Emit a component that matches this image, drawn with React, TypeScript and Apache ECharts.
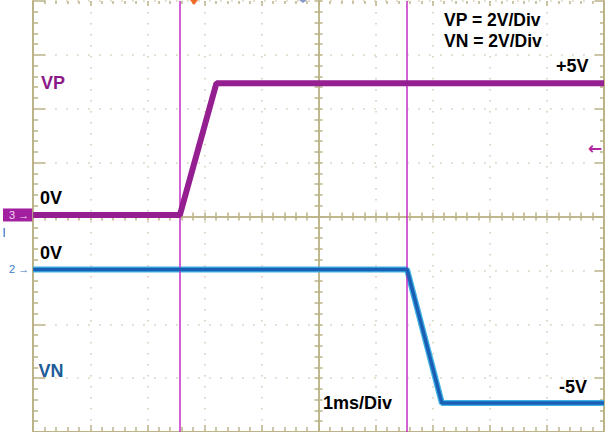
import React, { useEffect, useRef } from 'react';
import * as echarts from 'echarts';

// ---- data ----
const VP_TIME_MS = [0, 2.57, 3.21, 10];
const VP_VOLTS = [0, 0, 5, 5];
const VN_TIME_MS = [0, 6.55, 7.16, 10];
const VN_VOLTS = [0, 0, -5, -5];
const CURSOR_TIME_MS = [2.57, 6.55];
const TIME_RANGE_MS = [0, 10];
const X_DIV_RANGE = [-5, 5];
const Y_DIV_RANGE = [-4, 4];
const VP_AXIS_RANGE = [-8.24, 8.125];
const VN_AXIS_RANGE = [-6.08, 10.04];
const CHANNEL_TAGS = ['3 →', '2 →'];
const SCALE_TEXTS = ['VP = 2V/Div', 'VN = 2V/Div', '1ms/Div'];
const LEVEL_TEXTS = ['+5V', '0V', '0V', '-5V'];
const TRACE_NAMES = ['VP', 'VN'];

const OLIVE = '#BDB389';
const DOT = '#D2CCB2';
const VP_COLOR = '#951F91';
const CURSOR_COLOR = '#C22EC4';
const VN_COLOR = '#1A5FB4';
const VN_FRINGE = '#3FB2E6';
const FONT = '"Liberation Sans", Arial, sans-serif';

const tickLine = { color: OLIVE, width: 1.5 };

function borderX(position: string, majorLen: number, minorLen: number, showLine: boolean) {
  return {
    type: 'value', min: TIME_RANGE_MS[0], max: TIME_RANGE_MS[1], interval: 1, position,
    axisLine: { show: showLine, onZero: false, lineStyle: { color: OLIVE, width: 2 } },
    axisTick: { show: true, inside: true, length: majorLen, lineStyle: tickLine },
    minorTick: { show: true, splitNumber: 5, length: minorLen, lineStyle: tickLine },
    axisLabel: { show: false }, splitLine: { show: false },
  };
}
function centerX(position: string, split: boolean) {
  return {
    type: 'value', min: X_DIV_RANGE[0], max: X_DIV_RANGE[1], interval: 1, position,
    axisLine: { show: true, onZero: true, onZeroAxisIndex: 2, lineStyle: { color: OLIVE, width: 1.5 } },
    axisTick: { show: true, inside: true, length: 4, lineStyle: tickLine },
    minorTick: { show: true, splitNumber: 5, length: 4, lineStyle: tickLine },
    axisLabel: { show: false },
    splitLine: { show: split, lineStyle: { color: DOT, width: 1.5, type: [1.5, 9.5] } },
  };
}
function borderY(position: string, majorLen: number, minorLen: number, split: boolean) {
  return {
    type: 'value', min: Y_DIV_RANGE[0], max: Y_DIV_RANGE[1], interval: 1, position,
    axisLine: { show: true, onZero: false, lineStyle: { color: OLIVE, width: 2 } },
    axisTick: { show: true, inside: true, length: majorLen, lineStyle: tickLine },
    minorTick: { show: true, splitNumber: 5, length: minorLen, lineStyle: tickLine },
    axisLabel: { show: false },
    splitLine: { show: split, lineStyle: { color: DOT, width: 1.5, type: [1.5, 9.5] } },
  };
}
function centerY(position: string) {
  return {
    type: 'value', min: Y_DIV_RANGE[0], max: Y_DIV_RANGE[1], interval: 1, position,
    axisLine: { show: true, onZero: true, onZeroAxisIndex: 2, lineStyle: { color: OLIVE, width: 1.5 } },
    axisTick: { show: true, inside: true, length: 4, lineStyle: tickLine },
    minorTick: { show: true, splitNumber: 5, length: 4, lineStyle: tickLine },
    axisLabel: { show: false }, splitLine: { show: false },
  };
}

export default function App() {
  const ref = useRef<HTMLDivElement>(null);
  useEffect(() => {
    if (!ref.current) return;
    const chart = echarts.init(ref.current, null, { renderer: 'svg' });
    const vp = VP_TIME_MS.map((t, i) => [t, VP_VOLTS[i]]);
    const vn = VN_TIME_MS.map((t, i) => [t, VN_VOLTS[i]]);
    const bold = (size: number) => `bold ${size}px ${FONT}`;
    chart.setOption({
      animation: false,
      backgroundColor: '#ffffff',
      grid: { left: 28, top: 1, width: 576, height: 432 },
      xAxis: [
        borderX('bottom', 7, 5, true),
        borderX('top', 5, 3, false),
        centerX('bottom', true),
        centerX('top', false),
      ],
      yAxis: [
        {
          type: 'value', min: VP_AXIS_RANGE[0], max: VP_AXIS_RANGE[1], position: 'left',
          axisLine: { show: false, onZero: false }, axisTick: { show: false }, splitLine: { show: false },
          axisLabel: {
            show: true, customValues: [0], formatter: () => CHANNEL_TAGS[0], margin: 1,
            color: '#F6D8F4', backgroundColor: '#A21FA0', padding: [1, 3, 0, 6],
            fontSize: 11, fontFamily: FONT, lineHeight: 12,
          },
        },
        {
          type: 'value', min: VN_AXIS_RANGE[0], max: VN_AXIS_RANGE[1], position: 'left',
          axisLine: { show: false, onZero: false }, axisTick: { show: false }, splitLine: { show: false },
          axisLabel: {
            show: true, customValues: [0], formatter: () => CHANNEL_TAGS[1], margin: 1,
            color: '#3C7ACB', padding: [0, 3, 0, 6], fontSize: 11, fontFamily: FONT,
          },
        },
        borderY('left', 12, 5, true),
        borderY('right', 9, 4, false),
        centerY('left'),
        centerY('right'),
      ],
      series: [
        {
          type: 'line', name: TRACE_NAMES[0], xAxisIndex: 0, yAxisIndex: 0, data: vp,
          symbol: 'none', lineStyle: { color: VP_COLOR, width: 6 }, z: 5,
          markLine: {
            silent: true, symbol: 'none', label: { show: false },
            lineStyle: { color: CURSOR_COLOR, width: 1.5, type: 'solid' },
            data: CURSOR_TIME_MS.map((t) => ({ xAxis: t })),
          },
        },
        {
          type: 'line', name: TRACE_NAMES[1] + ' fringe', xAxisIndex: 0, yAxisIndex: 1, data: vn,
          symbol: 'none', lineStyle: { color: VN_FRINGE, width: 6 }, z: 4,
        },
        {
          type: 'line', name: TRACE_NAMES[1], xAxisIndex: 0, yAxisIndex: 1, data: vn,
          symbol: 'none', lineStyle: { color: VN_COLOR, width: 3.5 }, z: 6,
        },
      ],
      graphic: [
        { type: 'text', x: 41, y: 83, z: 20, style: { text: TRACE_NAMES[0], fill: '#8A1A88', font: bold(18), verticalAlign: 'middle' } },
        { type: 'text', x: 38.5, y: 371, z: 20, style: { text: TRACE_NAMES[1], fill: '#1D5C97', font: bold(18), verticalAlign: 'middle' } },
        { type: 'text', x: 444, y: 20, z: 20, style: { text: SCALE_TEXTS[0], fill: '#000', font: bold(17.5), verticalAlign: 'middle' } },
        { type: 'text', x: 444, y: 40.5, z: 20, style: { text: SCALE_TEXTS[1], fill: '#000', font: bold(17.5), verticalAlign: 'middle' } },
        { type: 'text', x: 323, y: 403, z: 20, style: { text: SCALE_TEXTS[2], fill: '#000', font: bold(18), verticalAlign: 'middle' } },
        { type: 'text', x: 556, y: 65.5, z: 20, style: { text: LEVEL_TEXTS[0], fill: '#000', font: bold(18), verticalAlign: 'middle' } },
        { type: 'text', x: 40, y: 197.5, z: 20, style: { text: LEVEL_TEXTS[1], fill: '#000', font: bold(18), verticalAlign: 'middle' } },
        { type: 'text', x: 40, y: 252.7, z: 20, style: { text: LEVEL_TEXTS[2], fill: '#000', font: bold(18), verticalAlign: 'middle' } },
        { type: 'text', x: 559, y: 387, z: 20, style: { text: LEVEL_TEXTS[3], fill: '#000', font: bold(18), verticalAlign: 'middle' } },
        { type: 'text', x: 588, y: 148, z: 20, style: { text: '←', fill: '#B0289F', font: `bold 17px "DejaVu Sans", sans-serif`, verticalAlign: 'middle' } },
        { type: 'polygon', z: 20, shape: { points: [[190, 0], [198, 0], [194, 5]] }, style: { fill: '#F06A28' } },
        { type: 'polygon', z: 20, shape: { points: [[299, 0], [307, 0], [303, 3]] }, style: { fill: '#8A98C8' } },
        { type: 'rect', z: 20, shape: { x: 3.5, y: 228, width: 1.5, height: 9 }, style: { fill: '#5A8BD0' } },
      ],
    });
    return () => chart.dispose();
  }, []);
  return <div ref={ref} style={{ position: 'absolute', left: 0, top: 0, width: 606, height: 432 }} />;
}
